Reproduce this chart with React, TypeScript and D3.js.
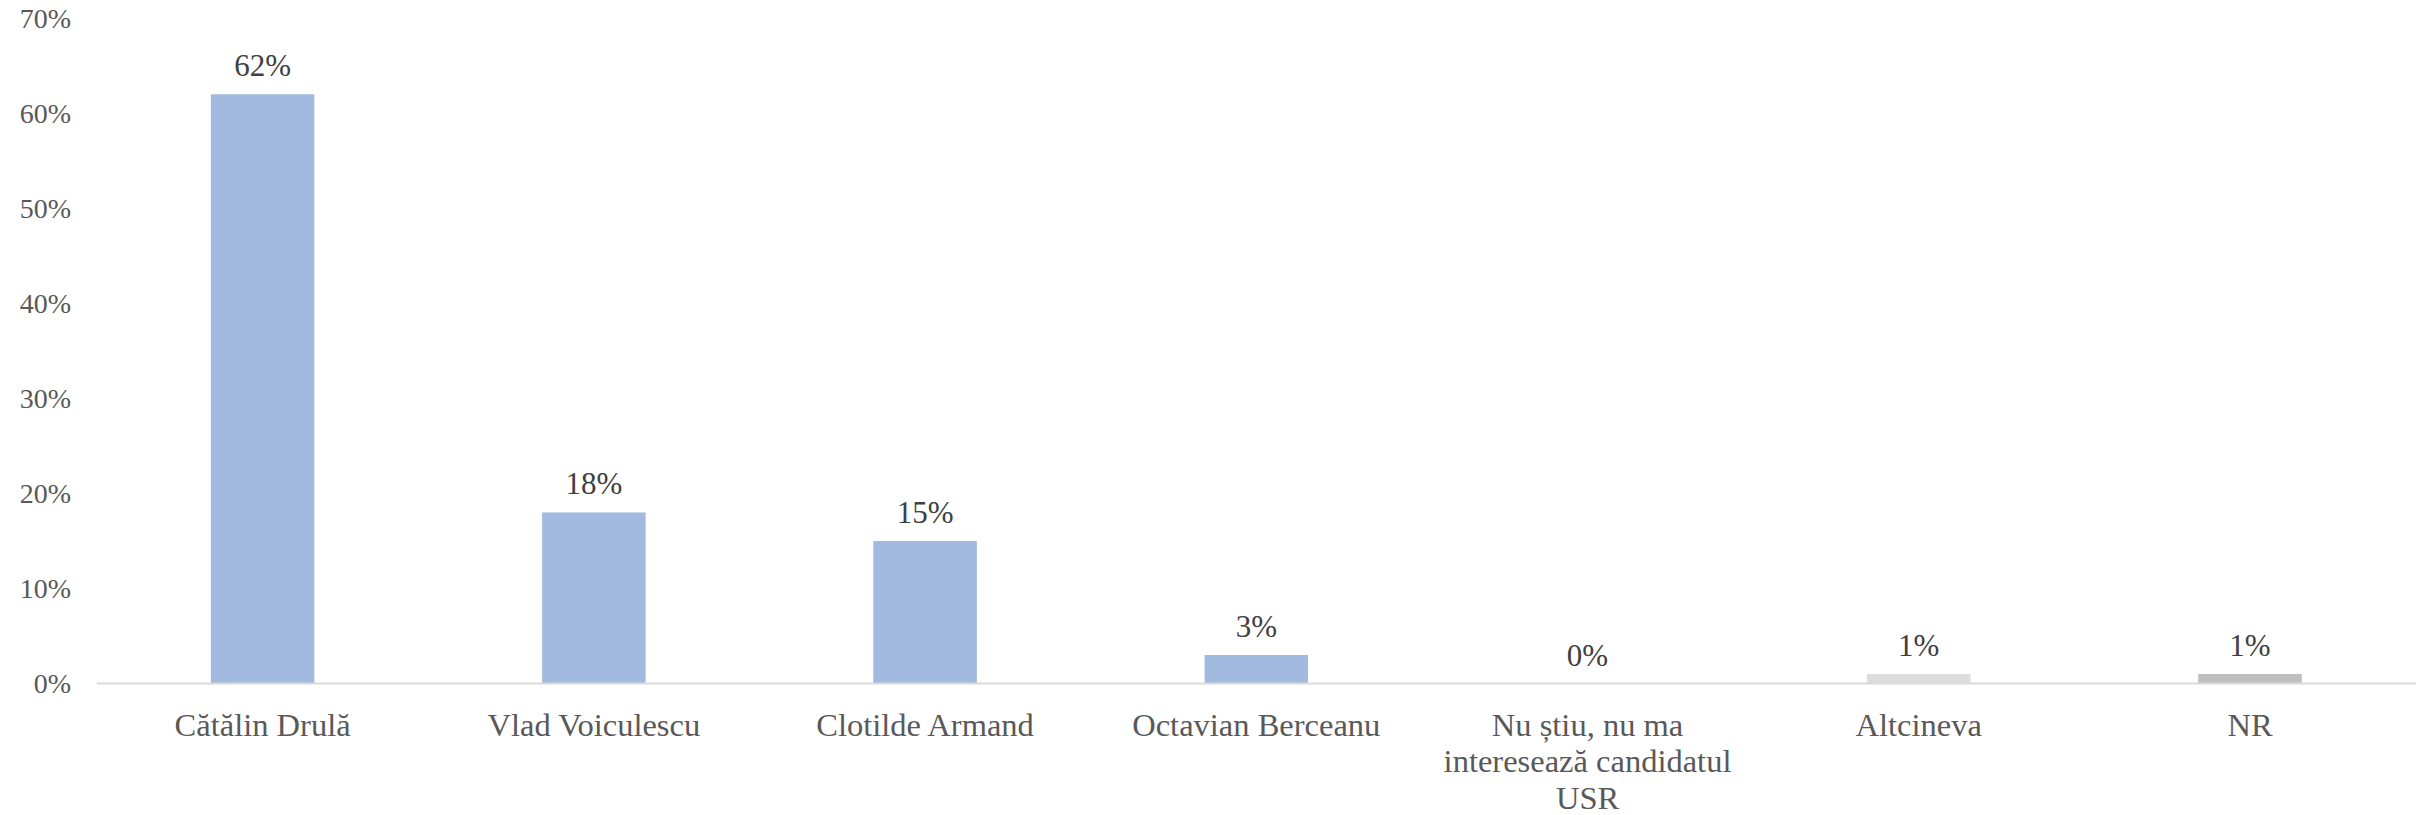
import React from "react";
import * as d3 from "d3";

const categories: string[][] = [
  ["Cătălin Drulă"],
  ["Vlad Voiculescu"],
  ["Clotilde Armand"],
  ["Octavian Berceanu"],
  ["Nu știu, nu ma", "interesează candidatul", "USR"],
  ["Altcineva"],
  ["NR"],
];
const values: number[] = [62, 18, 15, 3, 0, 1, 1];
const barColors: string[] = ["#A2B9E0", "#A2B9E0", "#A2B9E0", "#A2B9E0", "#A2B9E0", "#DDDDDD", "#BFBFBF"];
const yTicks: number[] = [0, 10, 20, 30, 40, 50, 60, 70];

const W = 2430;
const H = 815;
const FONT = "'Liberation Serif', 'Times New Roman', serif";

export default function App() {
  const x = d3
    .scaleBand<number>()
    .domain(values.map((_, i) => i))
    .range([97, 2415.6])
    .paddingInner(0)
    .paddingOuter(0);
  const y = d3.scaleLinear().domain([0, 62]).range([683.5, 94.3]);
  const barW = x.bandwidth() * 0.3125;

  return (
    <svg
      width={W}
      height={H}
      style={{ position: "absolute", left: 0, top: 0, display: "block", background: "#fff" }}
    >
      {yTicks.map((t) => (
        <text
          key={t}
          x={71}
          y={y(t) + 9.5}
          textAnchor="end"
          fontFamily={FONT}
          fontSize={28}
          fill="#595959"
        >
          {t}%
        </text>
      ))}
      {values.map((v, i) => {
        const cx = (x(i) as number) + x.bandwidth() / 2;
        return (
          <g key={i}>
            <rect
              x={cx - barW / 2}
              y={y(v)}
              width={barW}
              height={y(0) - y(v)}
              fill={barColors[i]}
            />
            <text
              x={cx}
              y={y(v) - 18}
              textAnchor="middle"
              fontFamily={FONT}
              fontSize={31}
              fill="#404040"
            >
              {v}%
            </text>
            {categories[i].map((line, j) => (
              <text
                key={j}
                x={cx}
                y={735.5 + j * 36.5}
                textAnchor="middle"
                fontFamily={FONT}
                fontSize={32.5}
                fill="#595959"
              >
                {line}
              </text>
            ))}
          </g>
        );
      })}
      <line x1={97} x2={2415.6} y1={y(0)} y2={y(0)} stroke="#D9D9D9" strokeWidth={2} />
    </svg>
  );
}
